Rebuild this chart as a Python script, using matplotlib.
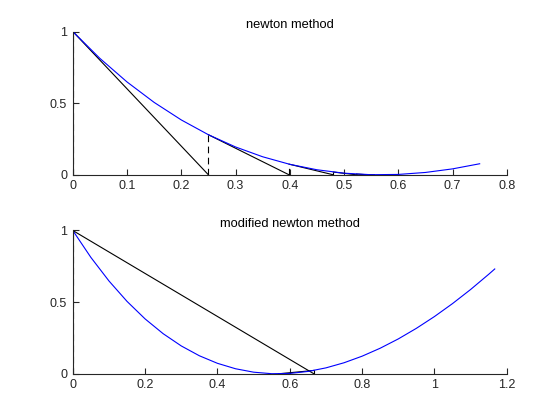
import matplotlib
matplotlib.use("Agg")
import matplotlib.pyplot as plt

plt.rcParams["font.family"] = ["Liberation Sans", "DejaVu Sans"]
plt.rcParams["font.size"] = 9

# ── Curve samples ─────────────────────────────────────────────────────────────
top_x = [0.0, 0.05, 0.10, 0.15, 0.20, 0.25, 0.30, 0.35, 0.40, 0.45,
         0.50, 0.55, 0.60, 0.65, 0.70, 0.75]
top_y = [1.0, 0.8122, 0.6478, 0.5051, 0.3828, 0.2796, 0.1943, 0.1258, 0.0731,
         0.0352, 0.0113, 0.0007, 0.0026, 0.0164, 0.0414, 0.0771]

bot_x = [0.0, 0.05, 0.10, 0.15, 0.20, 0.25, 0.30, 0.35, 0.40, 0.45, 0.50,
         0.55, 0.60, 0.65, 0.70, 0.75, 0.80, 0.85, 0.90, 0.95, 1.00, 1.05,
         1.10, 1.15, 1.1667]
bot_y = [1.0, 0.8122, 0.6478, 0.5051, 0.3828, 0.2796, 0.1943, 0.1258, 0.0731,
         0.0352, 0.0113, 0.0007, 0.0026, 0.0164, 0.0414, 0.0771, 0.1230,
         0.1786, 0.2434, 0.3173, 0.3996, 0.4901, 0.5884, 0.6946, 0.7315]

# ── Iterates: (x_n, f(x_n)) ──────────────────────────────────────────────────
newton_x = [0.0, 0.25, 0.3986, 0.4802, 0.5230, 0.5449, 0.5560]
newton_f = [1.0, 0.2796, 0.0744, 0.0192, 0.0049, 0.0012, 0.0003]

mod_x = [0.0, 0.6667, 0.5688]
mod_f = [1.0, 0.0235, 0.0000]


def draw_steps(ax, xs, fs):
    for i in range(len(xs) - 1):
        ax.plot([xs[i], xs[i]], [0, fs[i]], "k--", lw=0.8, dashes=(6, 4))
        ax.plot([xs[i], xs[i + 1]], [fs[i], 0], "k-", lw=0.8)


def style(ax, xlim, xticks):
    ax.set_xlim(*xlim)
    ax.set_ylim(0, 1)
    ax.set_xticks(xticks)
    ax.set_xticklabels([f"{t:g}" for t in xticks])
    ax.set_yticks([0, 0.5, 1])
    ax.set_yticklabels(["0", "0.5", "1"])
    for side in ("top", "right"):
        ax.spines[side].set_visible(False)
    for side in ("left", "bottom"):
        ax.spines[side].set_linewidth(0.8)
        ax.spines[side].set_color("#262626")
    ax.tick_params(direction="in", length=4, width=0.8, colors="#262626",
                   labelsize=9, pad=4)


fig = plt.figure(figsize=(5.6, 4.2), dpi=100)
ax1 = fig.add_axes([0.13, 0.5838, 0.775, 0.3412])
ax2 = fig.add_axes([0.13, 0.11, 0.775, 0.3412])

draw_steps(ax1, newton_x, newton_f)
ax1.plot(top_x, top_y, color="#0000ff", lw=0.8)
style(ax1, (0, 0.8), [0, 0.1, 0.2, 0.3, 0.4, 0.5, 0.6, 0.7, 0.8])
ax1.set_title("newton method", fontsize=9.3, pad=2)

draw_steps(ax2, mod_x, mod_f)
ax2.plot(bot_x, bot_y, color="#0000ff", lw=0.8)
style(ax2, (0, 1.2), [0, 0.2, 0.4, 0.6, 0.8, 1, 1.2])
ax2.set_title("modified newton method", fontsize=9.3, pad=2)

fig.savefig("out.png", dpi=100)
